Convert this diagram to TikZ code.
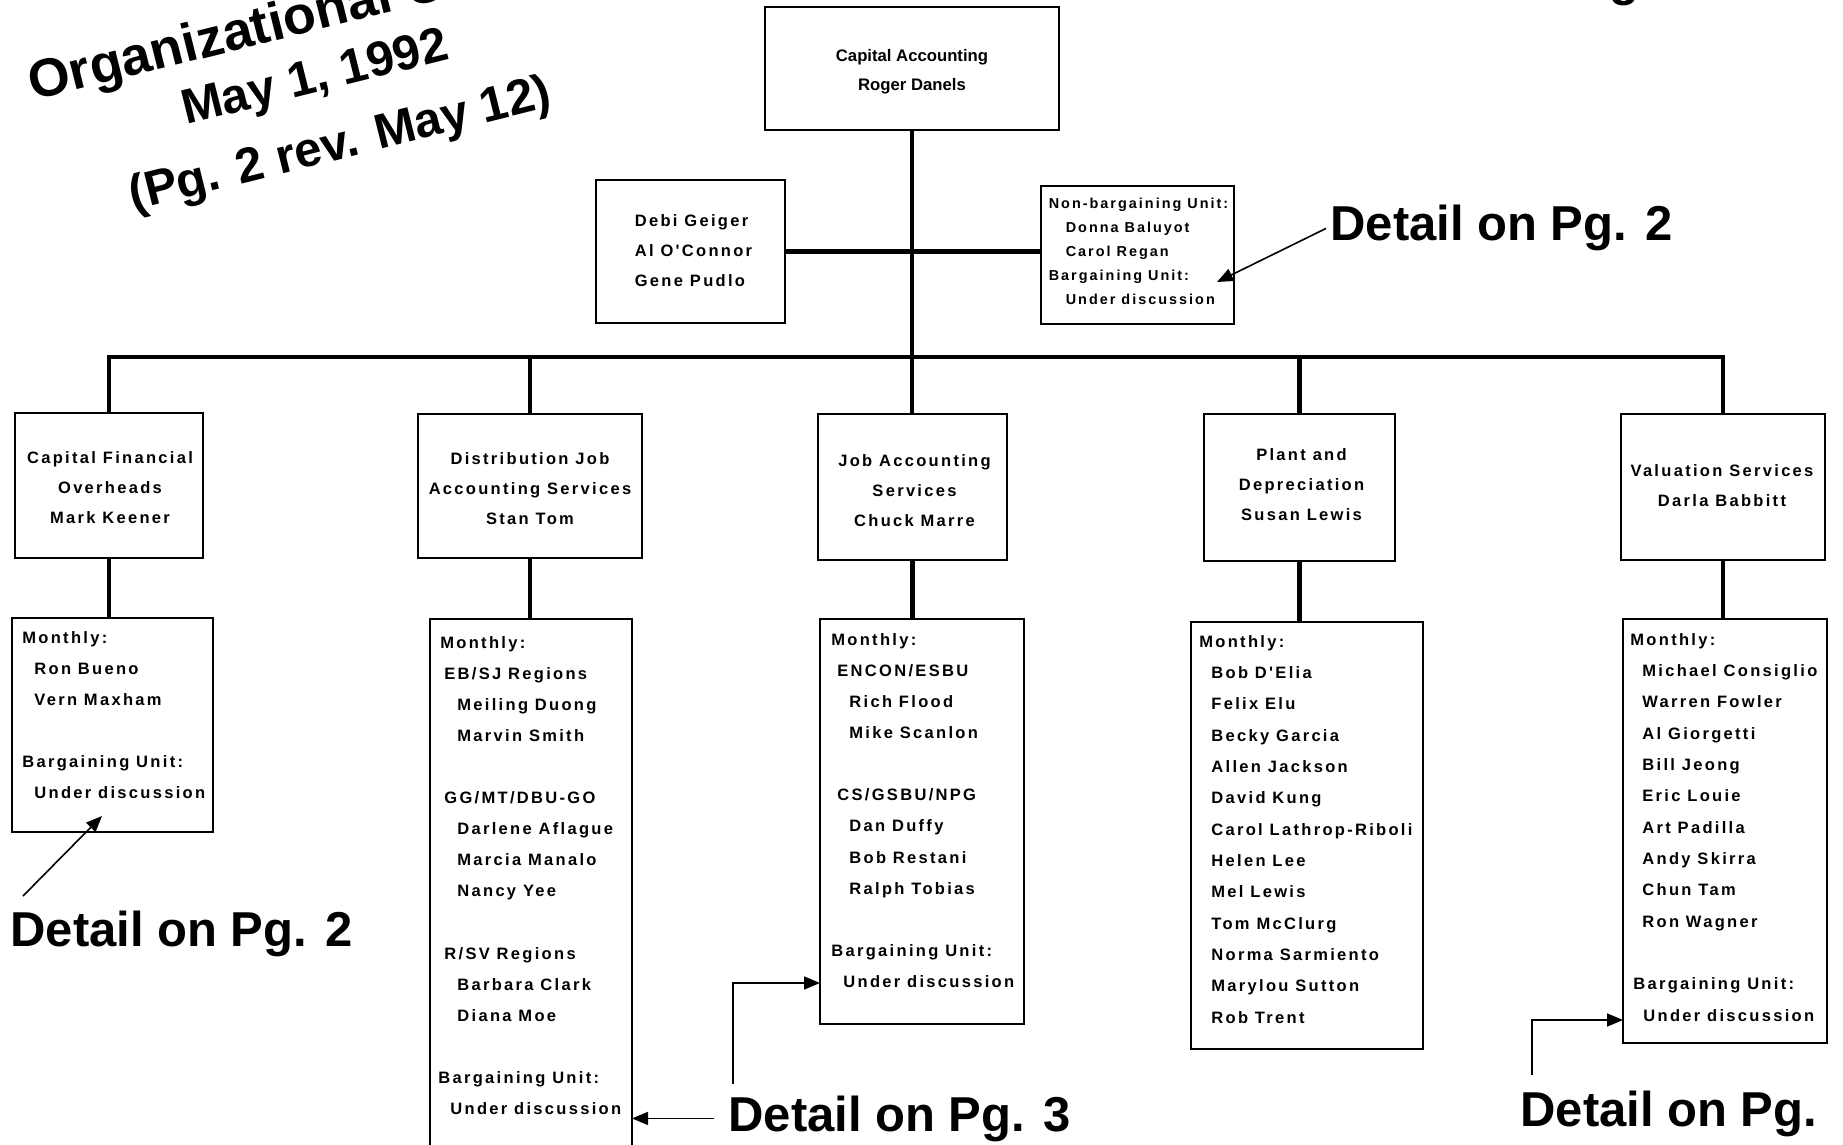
\documentclass[tikz,border=0pt]{standalone}
\usepackage{fontspec}
\setmainfont{Liberation Sans}
\newfontfamily\boxfont[LetterSpace=14]{Liberation Sans}
\newfontfamily\smallboxfont[LetterSpace=14]{Liberation Sans}
\usetikzlibrary{fit,arrows.meta,calc}
\begin{document}
\begin{tikzpicture}[x=0.5pt,y=-0.5pt,
  box/.style={draw, line width=1pt, inner sep=0pt, outer sep=0pt},
  conn/.style={line width=2.2pt, line join=miter},
  ptr/.style={line width=0.8pt, -{Triangle[length=8pt,width=6.5pt]}},
  unitfont/.style={font=\boxfont\bfseries\fontsize{8.25pt}{15pt}\selectfont, inner sep=0pt},
  topfont/.style={font=\bfseries\fontsize{8.35pt}{14.5pt}\selectfont, inner sep=0pt},
  smallf/.style={font=\smallboxfont\bfseries\fontsize{7.2pt}{12pt}\selectfont, inner sep=0pt},
  big/.style={font=\bfseries\fontsize{24.5pt}{30pt}\selectfont, inner sep=0pt},
  listtxt/.style={font=\boxfont\bfseries\fontsize{8.25pt}{10pt}\selectfont, inner sep=0pt, anchor=base west},
]
\useasboundingbox (0,0) rectangle (1843,1145);
\fill[white] (0,0) rectangle (1843,1145);

% title
\node[big, font=\bfseries\fontsize{26.8pt}{30pt}\selectfont, rotate=14, anchor=base west] (t1) at (33,101) {Organizational Chart};
\node[big, rotate=14, anchor=base west] (t2) at (186,125) {May 1, 1992};
\node[big, rotate=14, anchor=base west] (t3) at (133,211) {(Pg. 2 rev. May 12)};
\node[big, anchor=base west] (gfrag) at (1609,-4) {g};

% top level boxes
\node[box, fit={(765,7)(1059,130)}] (top) {};
\node[box, fit={(596,180)(785,323)}] (sL) {};
\node[box, fit={(1041,186)(1234,324)}] (sR) {};
\node[topfont, align=center] (topt) at ($(top.center)+(0,3)$) {Capital Accounting\\Roger Danels};
\node[unitfont, align=left] (sLt) at ($(sL.center)+(3,-1)$) {Debi Geiger\\Al O'Connor\\Gene Pudlo};
\node[smallf, align=left] (sRt) at ($(sR.center)+(1,-3.5)$) {Non-bargaining Unit:\\\hspace*{8.5pt}Donna Baluyot\\\hspace*{8.5pt}Carol Regan\\Bargaining Unit:\\\hspace*{8.5pt}Under discussion};

% second row
\node[box, fit={(15,413)(203,558)}] (b1) {};
\node[box, fit={(418,414)(642,558)}] (b2) {};
\node[box, fit={(818,414)(1007,560)}] (b3) {};
\node[box, fit={(1204,414)(1395,561)}] (b4) {};
\node[box, fit={(1621,414)(1825,560)}] (b5) {};
\node[unitfont, align=center] (b1t) at ($(b1.center)+(1,2)$) {Capital Financial\\Overheads\\Mark Keener};
\node[unitfont, align=center] (b2t) at ($(b2.center)+(0,3)$) {Distribution Job\\Accounting Services\\Stan Tom};
\node[unitfont, align=center] (b3t) at ($(b3.center)+(2,3.5)$) {Job Accounting\\Services\\Chuck Marre};
\node[unitfont, align=center] (b4t) at ($(b4.center)+(2,-3)$) {Plant and\\Depreciation\\Susan Lewis};
\node[unitfont, align=center] (b5t) at ($(b5.center)+(-1,-1)$) {Valuation Services\\Darla Babbitt};

% third row boxes
\node[box, fit={(12,618)(213,832)}] (L1) {};
\node[box, fit={(430,619)(632,1170)}] (L2) {};
\node[box, fit={(820,619)(1024,1024)}] (L3) {};
\node[box, fit={(1191,622)(1423,1049)}] (L4) {};
\node[box, fit={(1623,619)(1827,1043)}] (L5) {};

% list texts
\foreach \i/\xx/\t in {0/22/{Monthly:},1/34/{Ron Bueno},2/34/{Vern Maxham},4/22/{Bargaining Unit:},5/34/{Under discussion}}
  \node[listtxt] (l1-\i) at (\xx,{643+31*\i}) {\t};
\foreach \i/\xx/\t in {0/440/{Monthly:},1/444/{EB/SJ Regions},2/457/{Meiling Duong},3/457/{Marvin Smith},
  5/444/{GG/MT/DBU-GO},6/457/{Darlene Aflague},7/457/{Marcia Manalo},8/457/{Nancy Yee},
  10/444/{R/SV Regions},11/457/{Barbara Clark},12/457/{Diana Moe},14/438/{Bargaining Unit:},15/450/{Under discussion}}
  \node[listtxt] (l2-\i) at (\xx,{648+31.1*\i}) {\t};
\foreach \i/\xx/\t in {0/831/{Monthly:},1/837/{ENCON/ESBU},2/849/{Rich Flood},3/849/{Mike Scanlon},
  5/837/{CS/GSBU/NPG},6/849/{Dan Duffy},7/849/{Bob Restani},8/849/{Ralph Tobias},
  10/831/{Bargaining Unit:},11/843/{Under discussion}}
  \node[listtxt] (l3-\i) at (\xx,{645+31.15*\i}) {\t};
\foreach \i/\xx/\t in {0/1199/{Monthly:},1/1211/{Bob D'Elia},2/1211/{Felix Elu},3/1211/{Becky Garcia},
  4/1211/{Allen Jackson},5/1211/{David Kung},6/1211/{Carol Lathrop-Riboli},7/1211/{Helen Lee},
  8/1211/{Mel Lewis},9/1211/{Tom McClurg},10/1211/{Norma Sarmiento},11/1211/{Marylou Sutton},12/1211/{Rob Trent}}
  \node[listtxt] (l4-\i) at (\xx,{647+31.35*\i}) {\t};
\foreach \i/\xx/\t in {0/1630/{Monthly:},1/1642/{Michael Consiglio},2/1642/{Warren Fowler},3/1642/{Al Giorgetti},
  4/1642/{Bill Jeong},5/1642/{Eric Louie},6/1642/{Art Padilla},7/1642/{Andy Skirra},8/1642/{Chun Tam},
  9/1642/{Ron Wagner},11/1633/{Bargaining Unit:},12/1643/{Under discussion}}
  \node[listtxt] (l5-\i) at (\xx,{645+31.35*\i}) {\t};

% connectors
\coordinate (bus) at (912,357);
\draw[conn] (top.south) -- (top.south |- b3.north);
\draw[conn] (sL.east) -- (sL.east -| sR.west);
\draw[conn] (b1.north) -- (b1.north |- bus) -- (b5.north |- bus) -- (b5.north);
\draw[conn] (b2.north) -- (b2.north |- bus);
\draw[conn] (b4.north) -- (b4.north |- bus);
\draw[conn] (b1.south) -- (b1.south |- L1.north);
\draw[conn] (b2.south) -- (b2.south |- L2.north);
\draw[conn] (b3.south) -- (b3.south |- L3.north);
\draw[conn] (b4.south) -- (b4.south |- L4.north);
\draw[conn] (b5.south) -- (b5.south |- L5.north);

% detail labels
\node[big, anchor=base west] (d1) at (1330,241) {Detail on Pg. 2};
\node[big, anchor=base west] (d2) at (10,946) {Detail on Pg. 2};
\node[big, anchor=base west] (d3) at (728,1131) {Detail on Pg. 3};
\node[big, anchor=base west] (d4) at (1520,1126) {Detail on Pg.};

% pointers
\coordinate (a1t) at (1217,282);
\draw[ptr] ([xshift=-2pt]d1.west) -- (a1t);
\coordinate (a2s) at (23,896);
\coordinate (a2t) at (102,816);
\draw[ptr] (a2s) -- (a2t);
\draw[ptr] ([xshift=-7pt]d3.west) -- (d3.west -| L2.east);
\coordinate (a3s) at (733,1084);
\coordinate (a3k) at (733,983);
\draw[ptr] (a3s) -- (a3k) -- (a3k -| L3.west);
\coordinate (a4s) at (1532,1075);
\coordinate (a4k) at (1532,1020);
\draw[ptr] (a4s) -- (a4k) -- (a4k -| L5.west);
\end{tikzpicture}
\end{document}
